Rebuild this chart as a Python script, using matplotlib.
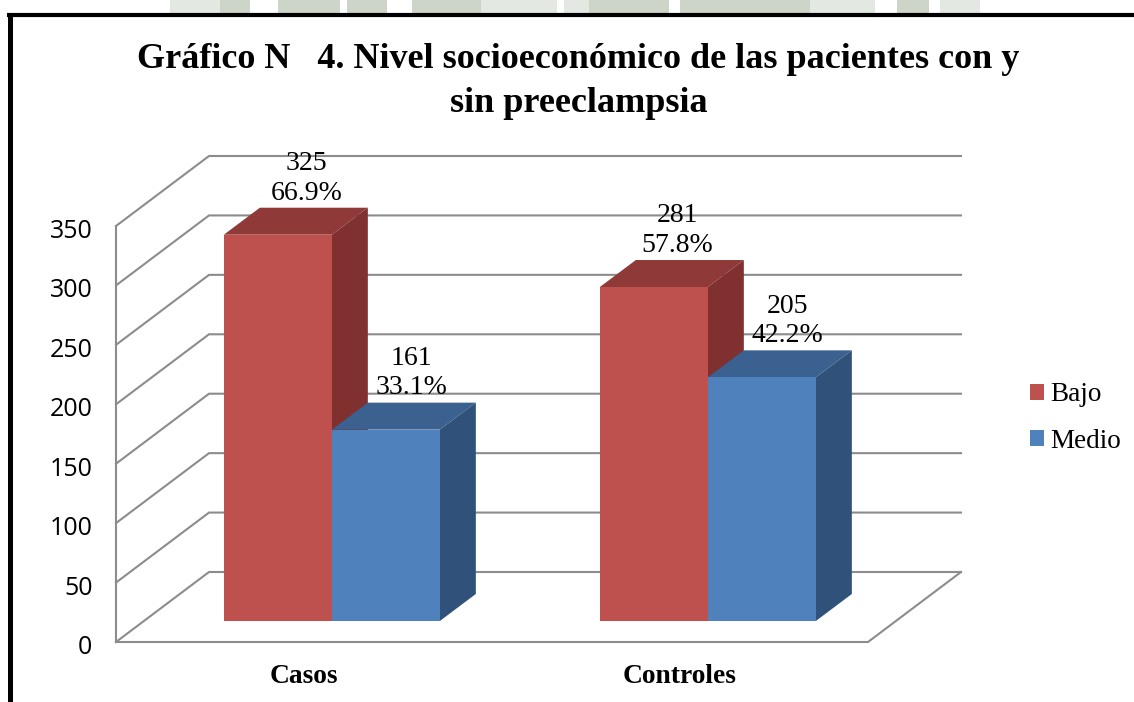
# -*- coding: utf-8 -*-
import matplotlib
matplotlib.use('Agg')
import matplotlib.pyplot as plt
from matplotlib.patches import Polygon, Patch, Rectangle
from matplotlib.transforms import ScaledTranslation

categories = ['Casos', 'Controles']
series_names = ['Bajo', 'Medio']
bajo_values = [325, 281]
medio_values = [161, 205]
bajo_pct = ['66.9%', '57.8%']
medio_pct = ['33.1%', '42.2%']
y_ticks = [0, 50, 100, 150, 200, 250, 300, 350]

W, H = 1134, 702
SERIF = 'Liberation Serif'
GRID = '#8c8c8c'
PX = 0.72  # one pixel in points at dpi 100

fig = plt.figure(figsize=(W / 100, H / 100), dpi=100, facecolor='white')

# watermark of the scanned page, only its lower edge shows above the frame
wm_dark = [(220, 30), (278, 62), (347, 40), (412, 69), (589, 80), (680, 130), (897, 32)]
wm_light = [(170, 50), (481, 76), (564, 25), (810, 65), (940, 40)]
for x, w in wm_dark:
    fig.add_artist(Rectangle((x / W, 1 - 13 / H), w / W, 13 / H, fc='#ccd5c8', ec='none',
                             transform=fig.transFigure))
for x, w in wm_light:
    fig.add_artist(Rectangle((x / W, 1 - 13 / H), w / W, 13 / H, fc='#e4e8e2', ec='none',
                             transform=fig.transFigure))

# front plane of the 3D box: x 116-868 px, y 642-226 px
ax = fig.add_axes([116 / W, 1 - 642 / H, 752 / W, 416 / H])
ax.set_xlim(0, 2)
ax.set_ylim(0, 350)
ax.patch.set_visible(False)
for s in ax.spines.values():
    s.set_visible(False)

# depth of the box and of the bars, in data units
depth_x = 93 / 376
depth_y = 70 * 350 / 416
bar_w = 108 / 376
bar_gap = 0.211
bar_dx = 36 / 376
bar_dy = 27 * 350 / 416
off_x = 28.5 / 376
off_y = 21 * 350 / 416


def wall_lines():
    for v in y_ticks:
        ax.plot([0, depth_x, 2 + depth_x], [v, v + depth_y, v + depth_y],
                color=GRID, lw=1.5, clip_on=False, zorder=1, solid_joinstyle='miter')
    ax.plot([0, 0], [0, 350], color=GRID, lw=1.5, clip_on=False, zorder=1)
    ax.plot([0, 2, 2 + depth_x], [0, 0, depth_y], color=GRID, lw=1.5,
            clip_on=False, zorder=1, solid_joinstyle='miter')


def draw_bar(x0, v, front, side, top):
    x0 = x0 + off_x
    y0 = off_y
    y1 = y0 + v
    x1 = x0 + bar_w
    ax.add_patch(Polygon([(x0, y1), (x1, y1), (x1 + bar_dx, y1 + bar_dy), (x0 + bar_dx, y1 + bar_dy)],
                         closed=True, fc=top, ec='none', clip_on=False, zorder=3))
    ax.add_patch(Polygon([(x1, y0), (x1 + bar_dx, y0 + bar_dy), (x1 + bar_dx, y1 + bar_dy), (x1, y1)],
                         closed=True, fc=side, ec='none', clip_on=False, zorder=3))
    ax.add_patch(Polygon([(x0, y0), (x1, y0), (x1, y1), (x0, y1)],
                         closed=True, fc=front, ec='none', clip_on=False, zorder=4))


wall_lines()

# small sideways shift of each label, pixels
nudge_bajo = [0, -5]
nudge_medio = [-3, -3]

for i in range(len(categories)):
    x_b = i + bar_gap
    x_m = x_b + bar_w
    draw_bar(x_b, bajo_values[i], '#BE504D', '#7F302F', '#8F3A39')
    draw_bar(x_m, medio_values[i], '#4F81BD', '#30527A', '#3A618F')
    for x, v, p, n in [(x_b, bajo_values[i], bajo_pct[i], nudge_bajo[i]),
                       (x_m, medio_values[i], medio_pct[i], nudge_medio[i])]:
        ax.annotate(f'{v}\n{p}', (x + off_x + bar_w / 2 + off_x, v + off_y),
                    xytext=(n * PX, 21), textcoords='offset points', ha='center', va='bottom',
                    fontsize=20, family=SERIF, color='black', linespacing=1.23,
                    annotation_clip=False, zorder=6)

ax.set_yticks(y_ticks)
ax.set_yticklabels([str(v) for v in y_ticks], fontsize=18, family='Open Sans', color='black')
ax.set_xticks([0.5, 1.5])
ax.set_xticklabels(categories, fontsize=19.8, family=SERIF, fontweight='bold', color='black')
ax.tick_params(axis='y', length=0, pad=17)
ax.tick_params(axis='x', length=0, pad=16)
shift = ScaledTranslation(0, -2.5 / 100, fig.dpi_scale_trans)
for lbl in ax.get_yticklabels():
    lbl.set_transform(lbl.get_transform() + shift)

fig.text(578 / W, 1 - 60 / H, 'Gráfico N   4. Nivel socioeconómico de las pacientes con y',
         ha='center', va='center', fontsize=26, family=SERIF, fontweight='bold', color='black')
fig.text(579 / W, 1 - 103 / H, 'sin preeclampsia',
         ha='center', va='center', fontsize=26, family=SERIF, fontweight='bold', color='black')

handles = [Patch(fc='#BE504D', ec='none'), Patch(fc='#4F81BD', ec='none')]
fig.legend(handles, series_names, loc='center left', bbox_to_anchor=(1030 / W, 1 - 418 / H),
           frameon=False, prop={'family': SERIF, 'size': 19.5}, handlelength=0.52, handleheight=0.52,
           handletextpad=0.22, labelspacing=0.78, borderpad=0, borderaxespad=0)

# black frame of the chart, open on the right and at the bottom
fig.add_artist(plt.Line2D([9.5 / W, 9.5 / W], [0, 1 - 13 / H], color='black', lw=3.6,
                          solid_capstyle='butt', transform=fig.transFigure))
fig.add_artist(plt.Line2D([7 / W, 1], [1 - 15 / H, 1 - 15 / H], color='black', lw=3.0,
                          solid_capstyle='butt', transform=fig.transFigure))

plt.savefig('out.png', dpi=100)
